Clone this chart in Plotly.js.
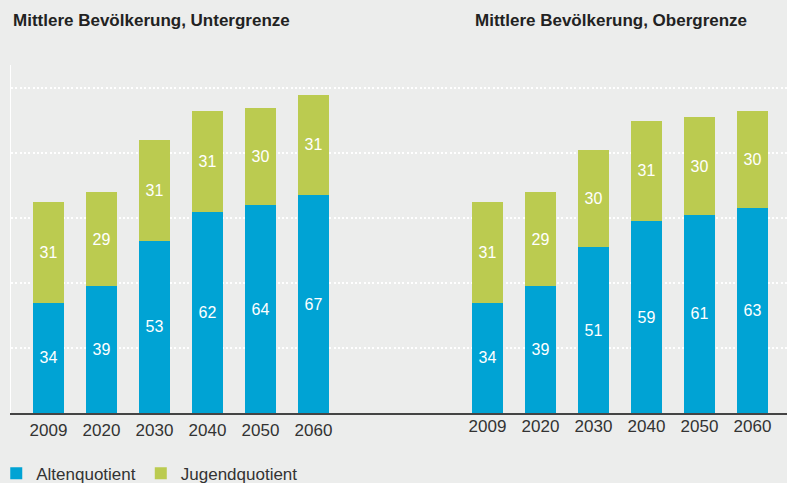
<!DOCTYPE html>
<html>
<head>
<meta charset="utf-8">
<script src="https://cdn.plot.ly/plotly-3.0.1.min.js"></script>
<style>html,body{margin:0;padding:0;background:#ecedec;}#chart{width:787px;height:483px;}</style>
</head>
<body>
<div id="chart"></div>
<script>
const years = ['2009','2020','2030','2040','2050','2060'];
const altUnter = [34, 39, 53, 62, 64, 67];
const jugUnter = [31, 29, 31, 31, 30, 31];
const altOber = [34, 39, 51, 59, 61, 63];
const jugOber = [31, 29, 30, 31, 30, 30];
const titleUnter = 'Mittlere Bevölkerung, Untergrenze';
const titleOber = 'Mittlere Bevölkerung, Obergrenze';
const nameAlt = 'Altenquotient';
const nameJug = 'Jugendquotient';

const BLUE = '#00a3d4';
const GREEN = '#bbcb50';
const FONT = 'Liberation Sans, Arial, sans-serif';

function barTrace(x, y, name, color, xa, show) {
  return {
    type: 'bar', x: x, y: y, name: name, xaxis: xa, yaxis: 'y',
    marker: {color: color, line: {width: 0}},
    text: y.map(String), textposition: 'inside', insidetextanchor: 'middle',
    textangle: 0, constraintext: 'none',
    insidetextfont: {family: FONT, size: 16, color: '#ffffff'},
    hoverinfo: 'skip', showlegend: show, legendgroup: name
  };
}

const data = [
  barTrace(years, altUnter, nameAlt, BLUE, 'x', true),
  barTrace(years, jugUnter, nameJug, GREEN, 'x', true),
  barTrace(years, altOber, nameAlt, BLUE, 'x2', false),
  barTrace(years, jugOber, nameJug, GREEN, 'x2', false)
];

const xCommon = {
  type: 'category', categoryorder: 'array', categoryarray: years,
  showgrid: false, zeroline: false, ticks: '', ticklabelstandoff: 1,
  tickfont: {family: FONT, size: 17, color: '#333333'},
  fixedrange: true
};

const layout = {
  width: 787, height: 483,
  margin: {l: 11, r: 0, t: 65, b: 70, autoexpand: false},
  paper_bgcolor: '#ecedec', plot_bgcolor: '#ecedec',
  barmode: 'stack', bargap: 0.415,
  font: {family: FONT, color: '#333333'},
  xaxis: Object.assign({}, xCommon, {
    range: [-0.708, 13.934], showline: true, linecolor: '#444444', linewidth: 1.5
  }),
  xaxis2: Object.assign({}, xCommon, {
    range: [-8.991, 5.651], overlaying: 'x', anchor: 'y', showline: false
  }),
  yaxis: {
    range: [0, 107.1], showticklabels: false, ticks: '',
    dtick: 20, tick0: 0,
    showgrid: true, gridcolor: '#ffffff', gridwidth: 1.3, griddash: '2px,2.3px',
    zeroline: false, showline: true, linecolor: '#ffffff', linewidth: 1.5,
    fixedrange: true
  },
  legend: {
    orientation: 'h', x: -0.019, xanchor: 'left', yref: 'container', y: 0.019, yanchor: 'middle',
    bgcolor: 'rgba(0,0,0,0)', font: {family: FONT, size: 17, color: '#333333'},
    traceorder: 'normal', itemclick: false
  },
  annotations: [
    {text: titleUnter, xref: 'paper', yref: 'paper', x: 0, y: 1.129, xanchor: 'left', yanchor: 'middle',
     showarrow: false, font: {family: FONT, size: 17, color: '#222222', weight: 'bold'}},
    {text: titleOber, xref: 'paper', yref: 'paper', x: 0.595, y: 1.129, xanchor: 'left', yanchor: 'middle',
     showarrow: false, font: {family: FONT, size: 17, color: '#222222', weight: 'bold'}}
  ]
};

Plotly.newPlot('chart', data, layout, {staticPlot: true, displayModeBar: false});
</script>
</body>
</html>
